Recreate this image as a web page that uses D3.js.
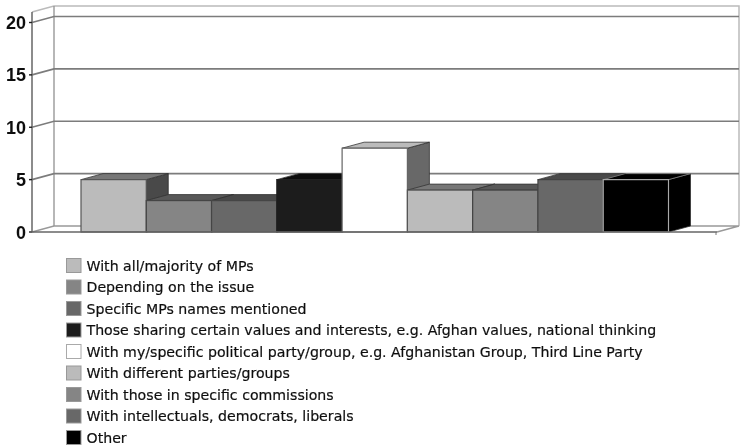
<!DOCTYPE html>
<html><head><meta charset="utf-8">
<script src="https://cdn.jsdelivr.net/npm/d3@7/dist/d3.min.js"></script>
<style>html,body{margin:0;padding:0;background:#fff}svg{display:block}</style></head>
<body><svg id="c" width="740" height="447"></svg>
<script>
(function(){
const categories = ["With all/majority of MPs","Depending on the issue","Specific MPs names mentioned","Those sharing certain values and interests, e.g. Afghan values, national thinking","With my/specific political party/group, e.g. Afghanistan Group, Third Line Party","With different parties/groups","With those in specific commissions","With intellectuals, democrats, liberals","Other"];
const values = [5,3,3,5,8,4,4,5,5];
const frontColors = ["#bbbbbb","#858585","#686868","#1c1c1c","#ffffff","#bbbbbb","#858585","#686868","#000000"];
const topColors = ["#777777","#585858","#484848","#0e0e0e","#bbbbbb","#777777","#585858","#484848","#000000"];
const sideColors = ["#484848","#484848","#383838","#0e0e0e","#686868","#484848","#484848","#383838","#000000"];
const strokeColors = ["#555","#444","#444","#222","#666","#555","#444","#444","#aaa"];
const yTicks = [0,5,10,15,20];

const W=740,H=447;
const svg=d3.select("#c");
const defs=svg.append("defs");
defs.append("filter").attr("id","soft").append("feGaussianBlur").attr("stdDeviation",0.5);
const g=svg.append("g").attr("filter","url(#soft)");

const y=d3.scaleLinear().domain([0,20]).range([232,22.5]);
const x=d3.scaleBand().domain(categories).range([81,668.5]).padding(0);
const dx=22,dy=6;
const left=32,right=717,topY=12;

g.append("path").attr("d",`M${left},${topY}L${left+dx},${topY-dy}H${W-1}V${y(0)-dy}`).attr("fill","none").attr("stroke","#bbb").attr("stroke-width",1.5);
g.append("line").attr("x1",left+dx).attr("x2",left+dx).attr("y1",topY-dy).attr("y2",y(0)-dy).attr("stroke","#999").attr("stroke-width",1.4);
g.selectAll(".grid").data(yTicks.filter(d=>d>0)).join("path").attr("class","grid")
 .attr("d",d=>`M${left},${y(d)}L${left+dx},${y(d)-dy}H${W-1}`)
 .attr("fill","none").attr("stroke","#7c7c7c").attr("stroke-width",1.6);
g.append("path").attr("d",`M${left},${y(0)}L${left+dx},${y(0)-dy}H${W-1}L${right},${y(0)}`).attr("fill","none").attr("stroke","#999").attr("stroke-width",1.4);
g.append("line").attr("x1",left).attr("x2",left).attr("y1",topY).attr("y2",y(0)).attr("stroke","#666").attr("stroke-width",1.5);
g.selectAll(".tick").data(yTicks).join("line").attr("class","tick")
 .attr("x1",left-3).attr("x2",left).attr("y1",d=>y(d)).attr("y2",d=>y(d)).attr("stroke","#222").attr("stroke-width",1.4);
g.selectAll(".lab").data(yTicks).join("text").attr("class","lab")
 .attr("x",26).attr("y",d=>y(d)+6.5).attr("text-anchor","end")
 .attr("font-family","Liberation Sans").attr("font-weight","bold").attr("font-size",18).attr("fill","#111").text(d=>d);

const bars=g.selectAll(".bar").data(categories).join("g").attr("class","bar");
const w=x.bandwidth();
bars.append("path").attr("d",(c,i)=>{const X=x(c)+w,T=y(values[i]);return `M${X},${T}L${X+dx},${T-dy}V${y(0)-dy}L${X},${y(0)}Z`;})
 .attr("fill",(c,i)=>sideColors[i]).attr("stroke","#333").attr("stroke-width",0.8);
bars.append("path").attr("d",(c,i)=>{const X=x(c),T=y(values[i]);return `M${X},${T}L${X+dx},${T-dy}H${X+w+dx}L${X+w},${T}Z`;})
 .attr("fill",(c,i)=>topColors[i]).attr("stroke",(c,i)=>i==8?"#888":"#333").attr("stroke-width",0.8);
bars.append("rect").attr("x",c=>x(c)).attr("width",w).attr("y",(c,i)=>y(values[i])).attr("height",(c,i)=>y(0)-y(values[i]))
 .attr("fill",(c,i)=>frontColors[i]).attr("stroke",(c,i)=>strokeColors[i]).attr("stroke-width",1.2);
g.append("line").attr("x1",left-3).attr("x2",right).attr("y1",y(0)).attr("y2",y(0)).attr("stroke","#666").attr("stroke-width",1.6);
g.append("line").attr("x1",right-1).attr("x2",right-1).attr("y1",y(0)).attr("y2",y(0)+3).attr("stroke","#777");

const ly=d3.scalePoint().domain(categories).range([265.5,437.5]);
const leg=g.selectAll(".leg").data(categories).join("g").attr("class","leg").attr("transform",c=>`translate(0,${ly(c)})`);
leg.append("rect").attr("x",66.5).attr("y",-7).attr("width",14.5).attr("height",14)
 .attr("fill",(c,i)=>frontColors[i]).attr("stroke",(c,i)=>i==4?"#aaa":"#999").attr("stroke-width",1);
leg.append("text").attr("x",86.5).attr("y",5.4).attr("font-family","DejaVu Sans").attr("font-size",14.15)
 .attr("fill","#111").attr("stroke","#111").attr("stroke-width",0.2).text(c=>c);
})();
</script></body></html>
